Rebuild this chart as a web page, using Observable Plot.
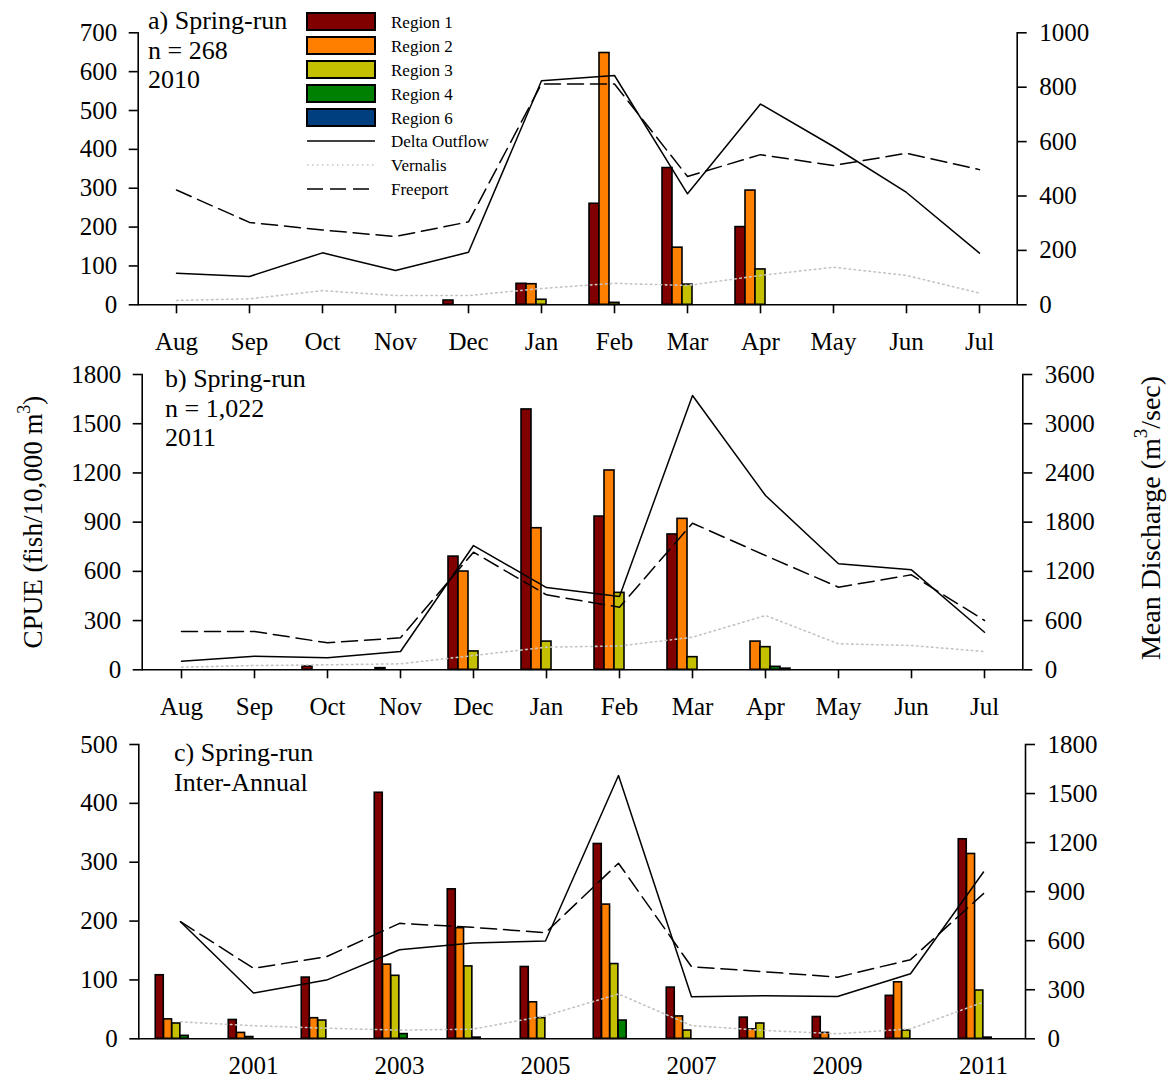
<!DOCTYPE html>
<html><head><meta charset="utf-8">
<script src="https://cdn.jsdelivr.net/npm/d3@7"></script>
<script src="https://cdn.jsdelivr.net/npm/@observablehq/plot@0.6"></script>
<style>
body{margin:0;background:#fff;}
#wrap{position:relative;width:1171px;height:1081px;font-family:"Liberation Serif","Times New Roman",serif;background:#fff;overflow:hidden;}
#wrap > svg{position:absolute;left:0;}
</style></head><body><div id="wrap"></div>
<script>
// ---------- data ----------
const regions = ["Region 1","Region 2","Region 3","Region 4","Region 6"];
const regionColors = ["#800000","#ff8000","#c4c000","#008000","#003f7f"];
const flowNames = ["Delta Outflow","Vernalis","Freeport"];
const months = ["Aug","Sep","Oct","Nov","Dec","Jan","Feb","Mar","Apr","May","Jun","Jul"];
const years = ["2000","2001","2002","2003","2004","2005","2006","2007","2008","2009","2010","2011"];
const yearTicks = ["2001","2003","2005","2007","2009","2011"];

// a) 2010 (CPUE, left axis)
const a_r1 = [0,0,0,0,11,54,260,352,200,0,0,0];
const a_r2 = [0,0,0,0,0,53,648,147,294,0,0,0];
const a_r3 = [0,0,0,0,0,13,5,52,91,0,0,0];
const a_r4 = [0,0,0,0,0,0,0,0,0,0,0,0];
const a_r6 = [0,0,0,0,0,0,0,0,0,0,0,0];
// a) discharge (right axis)
const a_delta = [116,104,191,126,193,824,843,408,738,582,413,190];
const a_vernalis = [16,22,52,34,34,60,79,71,108,138,108,43];
const a_freeport = [422,303,275,251,305,812,812,472,552,512,557,497];
const a_leftTicks = [0,100,200,300,400,500,600,700];
const a_rightTicks = [0,200,400,600,800,1000];

// b) 2011
const b_r1 = [0,0,20,10,690,1587,934,825,0,0,0,0];
const b_r2 = [0,0,0,0,599,863,1215,920,172,0,0,0];
const b_r3 = [0,0,0,0,112,172,469,77,138,0,0,0];
const b_r4 = [0,0,0,0,0,0,0,0,18,0,0,0];
const b_r6 = [0,0,0,0,0,0,0,0,7,0,0,0];
const b_delta = [105,166,146,223,1515,1003,894,3344,2125,1292,1219,458];
const b_vernalis = [32,52,61,73,174,276,290,397,662,317,296,223];
const b_freeport = [467,467,329,390,1434,914,763,1787,1393,1007,1158,601];
const b_leftTicks = [0,300,600,900,1200,1500,1800];
const b_rightTicks = [0,600,1200,1800,2400,3000,3600];

// c) inter-annual
const c_r1 = [108,32,104,418,254,122,331,87,36,37,73,339];
const c_r2 = [33,10,35,126,188,62,228,38,16,10,96,314];
const c_r3 = [26,3,31,107,123,35,127,14,26,0,14,82];
const c_r4 = [5,0,0,8,2,0,31,0,0,0,0,2];
const c_r6 = [0,0,0,0,0,0,0,0,0,0,0,0];
const c_delta = [716,280,359,545,586,598,1610,257,263,259,398,1020];
const c_vernalis = [104,80,65,53,59,141,274,81,51,31,61,225];
const c_freeport = [716,431,502,706,682,649,1074,441,410,377,484,888];
const c_leftTicks = [0,100,200,300,400,500];
const c_rightTicks = [0,300,600,900,1200,1500,1800];

// ---------- drawing ----------
const W = 1171;
const FONT = '"Liberation Serif","Times New Roman",serif';
const wrap = d3.select("#wrap");

function addPanel(cfg) {
  const k = cfg.leftMax / cfg.rightMax;
  const plotW = W - cfg.ml - cfg.mr;
  const step = plotW / cfg.cats.length;
  const pi = 1 - cfg.bw / step;
  const marks = [];
  cfg.bars.forEach((vals, r) => {
    const data = cfg.cats.map((c, i) => ({cat: c, v: vals[i]})).filter(d => d.v > 0);
    marks.push(Plot.barY(data, {x: "cat", y: "v", fill: regionColors[r], stroke: "#000", strokeWidth: 1.6,
      dx: cfg.slots[r] * cfg.bw}));
  });
  const series = [
    [cfg.vernalis, {stroke: "#c4c4c4", strokeWidth: 1.6, strokeDasharray: "1.5,3.5"}],
    [cfg.freeport, {stroke: "#000", strokeWidth: 1.5, strokeDasharray: "16,7"}],
    [cfg.delta, {stroke: "#000", strokeWidth: 1.5}]
  ];
  for (const [vals, st] of series) {
    marks.push(Plot.line(cfg.cats.map((c, i) => ({cat: c, v: vals[i] * k})), {x: "cat", y: "v", ...st}));
  }
  marks.push(Plot.ruleY([0], {strokeWidth: 1.6}));
  marks.push(Plot.frame({anchor: "left", strokeWidth: 1.6}));
  marks.push(Plot.frame({anchor: "right", strokeWidth: 1.6}));
  marks.push(Plot.axisX({ticks: cfg.xTicks, tickSize: cfg.xTickSize, tickPadding: cfg.xTickPadding, label: null, strokeWidth: 1.6}));
  marks.push(Plot.axisY({anchor: "left", ticks: cfg.leftTicks, tickSize: 9, tickPadding: 12, label: null, strokeWidth: 1.6, tickFormat: d => String(d)}));
  marks.push(Plot.axisY({anchor: "right", ticks: cfg.rightTicks.map(v => v * k), tickSize: 9, tickPadding: 13, label: null, strokeWidth: 1.6,
    tickFormat: v => String(Math.round(v / k))}));
  const svg = Plot.plot({
    width: W, height: cfg.height,
    marginLeft: cfg.ml, marginRight: cfg.mr, marginTop: cfg.mt, marginBottom: cfg.mb,
    x: {type: "band", domain: cfg.cats, paddingInner: pi, paddingOuter: pi / 2},
    y: {domain: [0, cfg.leftMax]},
    style: {fontFamily: FONT, fontSize: "25px", background: "transparent", color: "#000", overflow: "visible"},
    marks
  });
  svg.style.top = cfg.top + "px";
  wrap.node().appendChild(svg);
}

addPanel({top: 0, height: 360, ml: 137.7, mr: 154.3, mt: 32.3, mb: 55.7, bw: 10, slots: [-2,-1,0,1,2],
  cats: months, bars: [a_r1,a_r2,a_r3,a_r4,a_r6], delta: a_delta, vernalis: a_vernalis, freeport: a_freeport,
  leftMax: 700, rightMax: 1000, leftTicks: a_leftTicks, rightTicks: a_rightTicks, xTicks: months, xTickSize: 9, xTickPadding: 18});
addPanel({top: 360, height: 360, ml: 141.7, mr: 148.7, mt: 14, mb: 50.7, bw: 10, slots: [-2,-1,0,1,2],
  cats: months, bars: [b_r1,b_r2,b_r3,b_r4,b_r6], delta: b_delta, vernalis: b_vernalis, freeport: b_freeport,
  leftMax: 1800, rightMax: 3600, leftTicks: b_leftTicks, rightTicks: b_rightTicks, xTicks: months, xTickSize: 9, xTickPadding: 18});
addPanel({top: 720, height: 361, ml: 138.3, mr: 146, mt: 24, mb: 42.7, bw: 8.3, slots: [-2.5,-1.5,-0.5,0.5,2.5],
  cats: years, bars: [c_r1,c_r2,c_r3,c_r4,c_r6], delta: c_delta, vernalis: c_vernalis, freeport: c_freeport,
  leftMax: 500, rightMax: 1800, leftTicks: c_leftTicks, rightTicks: c_rightTicks, xTicks: yearTicks, xTickSize: 0, xTickPadding: 17});

// ---------- overlay: panel labels, axis titles, legend ----------
const ov = wrap.append("svg").attr("width", W).attr("height", 1081).style("top", "0px")
  .style("font-family", FONT).style("pointer-events", "none");

const panelLabels = [
  {x: 148, y: 29, lines: ["a) Spring-run", "n = 268", "2010"]},
  {x: 165, y: 387, lines: ["b) Spring-run", "n = 1,022", "2011"]},
  {x: 174, y: 761, lines: ["c) Spring-run", "Inter-Annual"]}
];
for (const p of panelLabels) {
  p.lines.forEach((t, i) => ov.append("text").attr("x", p.x).attr("y", p.y + i * 29.5)
    .attr("font-size", 26).text(t));
}

// axis titles
const lt = ov.append("text").attr("transform", "translate(42,522) rotate(-90)")
  .attr("text-anchor", "middle").attr("font-size", 27);
lt.append("tspan").text("CPUE (fish/10,000 m");
lt.append("tspan").attr("font-size", 18).attr("dy", -12).text("3");
lt.append("tspan").attr("dy", 12).text(")");

const rt = ov.append("text").attr("transform", "translate(1160,518) rotate(-90)")
  .attr("text-anchor", "middle").attr("font-size", 28);
rt.append("tspan").text("Mean Discharge (m");
rt.append("tspan").attr("font-size", 19).attr("dy", -13).text("3");
rt.append("tspan").attr("dy", 13).text("/sec)");

// legend
const lg = ov.append("g").attr("font-size", 17);
regions.forEach((r, i) => {
  lg.append("rect").attr("x", 307).attr("y", 13 + 24 * i).attr("width", 68).attr("height", 17)
    .attr("fill", regionColors[i]).attr("stroke", "#000").attr("stroke-width", 2);
  lg.append("text").attr("x", 391).attr("y", 28 + 24 * i).text(r);
});
const flowStyles = [
  {stroke: "#000", dash: null},
  {stroke: "#c4c4c4", dash: "1.5,3.5"},
  {stroke: "#000", dash: "16,7"}
];
flowNames.forEach((f, i) => {
  const y = 141 + 24 * i;
  const l = lg.append("line").attr("x1", 307).attr("x2", 375).attr("y1", y).attr("y2", y)
    .attr("stroke", flowStyles[i].stroke).attr("stroke-width", 1.5);
  if (flowStyles[i].dash) l.attr("stroke-dasharray", flowStyles[i].dash);
  lg.append("text").attr("x", 391).attr("y", y + 6).text(f);
});
</script>
</body></html>
